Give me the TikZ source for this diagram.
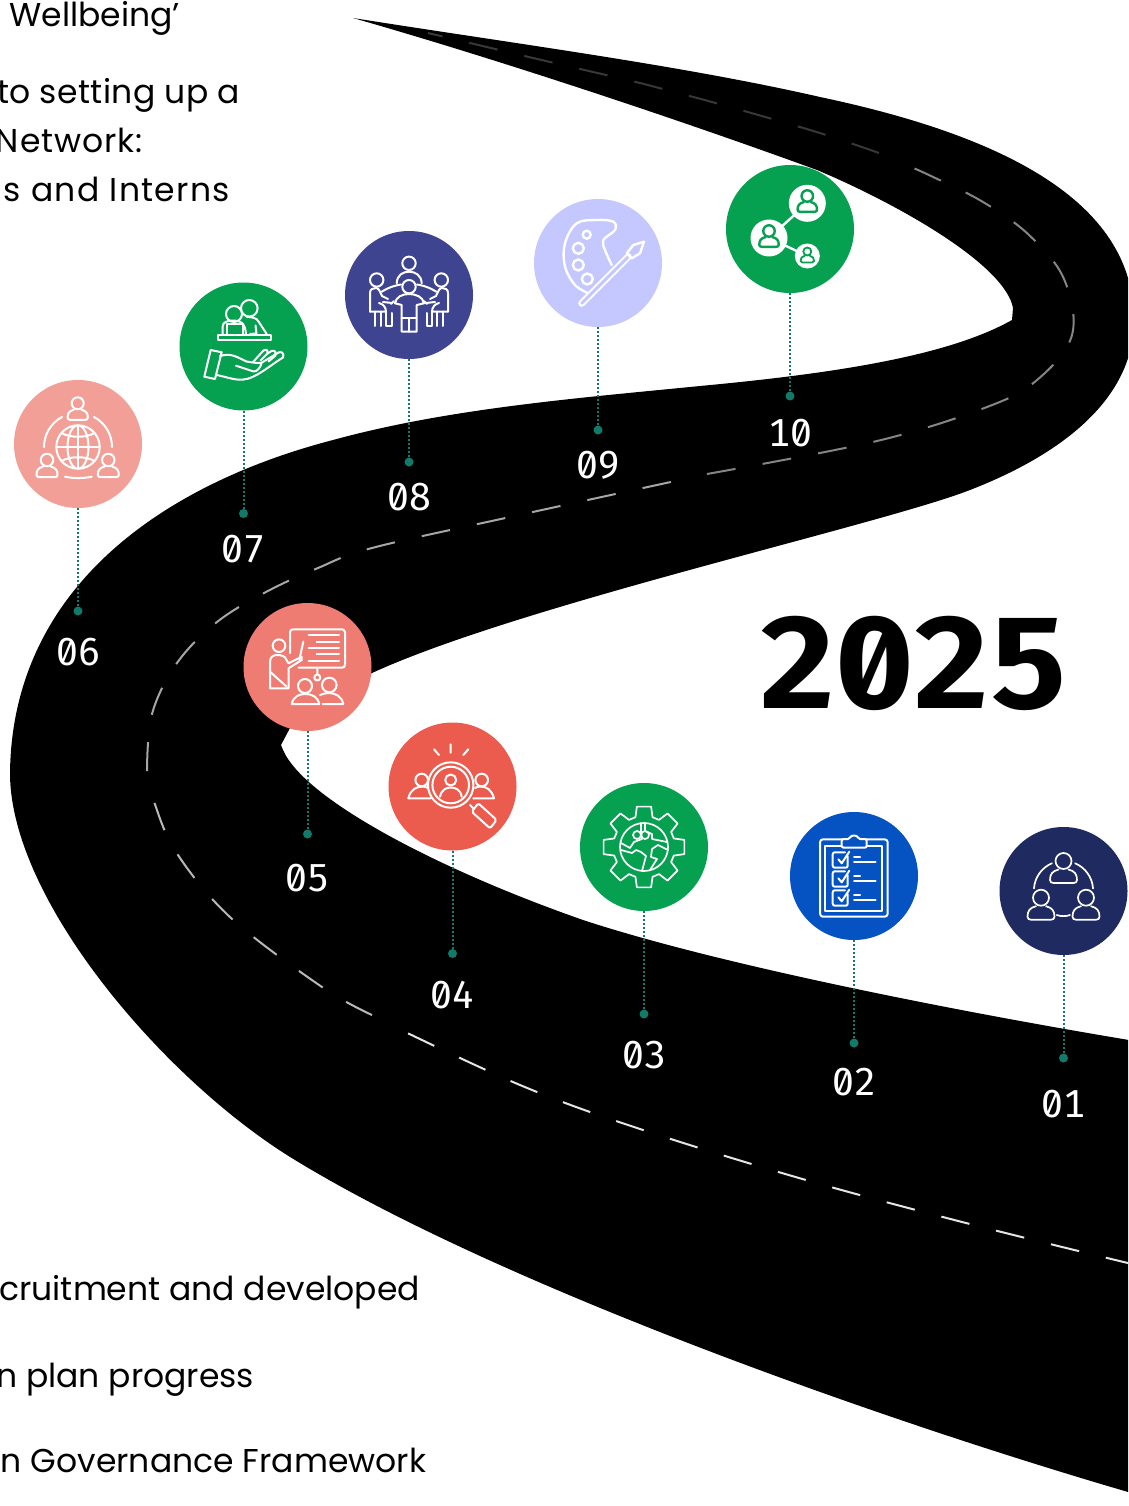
\documentclass[tikz,border=0pt]{standalone}
\usepackage{fontspec}
\setmainfont{Poppins}
\newfontfamily\numfont[RawFeature={+zero;+tnum}]{Fira Sans}
\newfontfamily\yearfont[FakeStretch=1.055,RawFeature={+zero;+tnum}]{Fira Sans}
\usetikzlibrary{positioning}
\definecolor{stopgreen}{HTML}{05A150}
\definecolor{stoplilac}{HTML}{C5C8FF}
\definecolor{stopindigo}{HTML}{3F4490}
\definecolor{stoppink}{HTML}{F2A097}
\definecolor{stopsalmon}{HTML}{EE7C72}
\definecolor{stopred}{HTML}{EB5C4F}
\definecolor{stopblue}{HTML}{0553C2}
\definecolor{stopnavy}{HTML}{1E2A60}
\definecolor{leadteal}{HTML}{127A68}
\tikzset{
  stopdisc/.style={circle,minimum size=128pt,inner sep=0pt,outer sep=0pt},
  stopdot/.style={circle,fill=leadteal,minimum size=9pt,inner sep=0pt,outer sep=0pt},
  stopnum/.style={text=white,inner sep=0pt,outer sep=0pt,yshift=1pt,font=\numfont\fontsize{39}{39}\selectfont},
  leader/.style={leadteal,line width=2pt,dash pattern=on 2pt off 2pt},
  notetext/.style={anchor=base east,inner sep=0pt,outer sep=0pt,font=\fontsize{33}{33}\selectfont},
  iconline/.style={color=white,line width=2pt,line cap=round,line join=round},
  laneline/.style={line width=2pt,dash pattern=on 29pt off 27.5pt},
  pics/bust/.style={code={
    \draw (0,0) circle (8);
    \draw (-5,8.5) .. controls (-11,10) and (-13.5,13) .. (-13.5,19) .. controls (-13.5,21) and (-12,22) .. (-10,22)
      -- (10,22) .. controls (12,22) and (13.5,21) .. (13.5,19) .. controls (13.5,13) and (11,10) .. (5,8.5);
  }},
  pics/sitter/.style={code={
    \draw (-32.3,-15) circle (6.7);
    \draw (-39,16.7) -- (-39,-2) .. controls (-39,-6) and (-36,-7) .. (-33,-7) .. controls (-30,-7) and (-29,-3) .. (-27,1) -- (-21,4);
    \draw (-39,16.7) -- (-23,16.7) .. controls (-23,12) and (-26,9) .. (-30,8);
    \draw (-17,8) -- (-26,7) (-15,6) -- (-18,9);
    \draw (-34,16.7) -- (-34,31) (-28,16.7) -- (-28,31) (-23,16.7) -- (-23,31) -- (-17.5,31) -- (-17.5,18);
  }},
}
\begin{document}
\begin{tikzpicture}[x=1pt,y=-1pt]
  \path[use as bounding box,clip] (0,0) rectangle (1128,1506);
  \fill[black] (353,18) .. controls (510,43) and (680,65) .. (820,97)
    .. controls (1000,135) and (1134,200) .. (1134,320)
    .. controls (1134,400) and (1060,455) .. (970,490)
    .. controls (880,525) and (520,605) .. (372,673)
    -- (290,728) -- (281,745) -- (283,750)
    .. controls (305,800) and (440,870) .. (583,920)
    .. controls (720,965) and (960,1012) .. (1135,1041)
    -- (1135,1494)
    .. controls (880,1420) and (500,1285) .. (295,1160)
    .. controls (165,1081) and (10,900) .. (10,773)
    .. controls (12,590) and (160,485) .. (333,440)
    .. controls (450,408) and (580,398) .. (700,386)
    .. controls (840,373) and (950,355) .. (1012,320)
    -- (1013,308)
    .. controls (1005,265) and (900,205) .. (817,170)
    .. controls (680,120) and (500,60) .. (353,18)
    -- cycle;
  \draw[laneline,black!10] plot[smooth,tension=.6] coordinates {(1134,1264.5) (966,1223) (799,1178) (634,1127) (520,1085) (397,1028)};
  \draw[laneline,black!28] plot[smooth,tension=.6] coordinates {(372,1015) (322,987) (231,918) (176,852) (153,799) (149,785)};
  \draw[laneline,black!35] plot[smooth,tension=.6] coordinates {(147,771) (152,714) (177,663) (217,622) (266,592) (318,568) (372,548) (510,517) (680,480)};
  \draw[laneline,black!48] plot[smooth,tension=.6] coordinates {(707,474) (877,441) (987,407) (1037,380) (1072,335) (1064,279) (1029,235) (983,202) (931,176) (895,160)};
  \draw[laneline,black!78] plot[smooth,tension=.6] coordinates {(879,153) (810,130) (701,99) (644,84) (533,58) (428,33)};

  \node[stopdisc,fill=stopgreen] (disc10) at (790,229) {};
  \node[stopdot,below=98.5pt of disc10] (dot10) {};
  \node[stopnum,below=19.5pt of dot10] (num10) {10};
  \draw[leader] (disc10) -- (dot10);
  \node[stopdisc,fill=stoplilac] (disc09) at (598,263) {};
  \node[stopdot,below=98.5pt of disc09] (dot09) {};
  \node[stopnum,below=17.5pt of dot09] (num09) {09};
  \draw[leader] (disc09) -- (dot09);
  \node[stopdisc,fill=stopindigo] (disc08) at (409,295) {};
  \node[stopdot,below=98.5pt of disc08] (dot08) {};
  \node[stopnum,below=17.5pt of dot08] (num08) {08};
  \draw[leader] (disc08) -- (dot08);
  \node[stopdisc,fill=stopgreen] (disc07) at (243.5,346.5) {};
  \node[stopdot,below=98.5pt of disc07] (dot07) {};
  \node[stopnum,below=18.5pt of dot07] (num07) {07};
  \draw[leader] (disc07) -- (dot07);
  \node[stopdisc,fill=stoppink] (disc06) at (78,444) {};
  \node[stopdot,below=98.5pt of disc06] (dot06) {};
  \node[stopnum,below=23.5pt of dot06] (num06) {06};
  \draw[leader] (disc06) -- (dot06);
  \node[stopdisc,fill=stopsalmon] (disc05) at (307.5,667) {};
  \node[stopdot,below=98.5pt of disc05] (dot05) {};
  \node[stopnum,below=27pt of dot05] (num05) {05};
  \draw[leader] (disc05) -- (dot05);
  \node[stopdisc,fill=stopred] (disc04) at (452.5,786.5) {};
  \node[stopdot,below=98.5pt of disc04] (dot04) {};
  \node[stopnum,below=24.5pt of dot04] (num04) {04};
  \draw[leader] (disc04) -- (dot04);
  \node[stopdisc,fill=stopgreen] (disc03) at (644,847) {};
  \node[stopdot,below=98.5pt of disc03] (dot03) {};
  \node[stopnum,below=23.5pt of dot03] (num03) {03};
  \draw[leader] (disc03) -- (dot03);
  \node[stopdisc,fill=stopblue] (disc02) at (854,876) {};
  \node[stopdot,below=98.5pt of disc02] (dot02) {};
  \node[stopnum,below=21.5pt of dot02] (num02) {02};
  \draw[leader] (disc02) -- (dot02);
  \node[stopdisc,fill=stopnavy] (disc01) at (1063.5,891) {};
  \node[stopdot,below=98.5pt of disc01] (dot01) {};
  \node[stopnum,below=28.5pt of dot01] (num01) {01};
  \draw[leader] (disc01) -- (dot01);

  \begin{scope}[shift={(disc10.center)},iconline,line width=2.4pt]
    \draw (17.3,-25.7) -- (-21,9) -- (17.3,27);
    \fill (17.3,-25.7) circle (18.5) (-21,9) circle (18.5) (17.3,27) circle (12.5);
    \pic[color=stopgreen,scale=.72] at (17.3,-33) {bust};
    \pic[color=stopgreen,scale=.72] at (-21,2) {bust};
    \pic[color=stopgreen,scale=.5,line width=1.8pt] at (17.3,22.5) {bust};
  \end{scope}
  \begin{scope}[shift={(disc09.center)},iconline,line width=2.4pt]
    \draw plot[smooth,tension=.6] coordinates {(13.7,2) (7,-13) (5.3,-23) (17,-33) (15.3,-41.3) (-1.3,-43) (-21.3,-39.7) (-33,-19.7) (-33,3.7) (-23,22) (-9.7,30.3)};
    \draw (-11.3,-28.3) circle (4) (-19.7,-14.7) circle (5.5) (-19.7,2) circle (5.5) (-10.7,16) circle (5.5);
    \draw[line width=7pt] (-16.3,40.3) -- (30.3,-6.3);
    \draw[stoplilac,line width=3pt] (-16.3,40.3) -- (30.3,-6.3);
    \draw (28.7,-9.7) -- (35.3,-18) -- (46,-21.3) -- (42,-9.7) -- (33.7,-4.7) -- cycle;
  \end{scope}
  \begin{scope}[shift={(disc08.center)},iconline]
    \draw (0,-31.7) circle (6.7);
    \draw (-12.3,-11.7) .. controls (-12,-20) and (-6,-23.3) .. (0,-23.3) .. controls (6,-23.3) and (12.4,-20) .. (12.7,-11.7);
    \draw (-27.3,-3.3) .. controls (-18,-9) and (-11,-10) .. (-8,-10.5) (27.3,-3.3) .. controls (18,-9) and (11,-10) .. (8,-10.5);
    \draw (0,-8.3) circle (6.7);
    \draw (-14,8.3) .. controls (-13,2) and (-7,-1) .. (0,-1) .. controls (7,-1) and (14,2) .. (15,8.3) -- (7.7,10) -- (7.7,36.7) -- (-7.3,36.7) -- (-7.3,10) -- cycle;
    \draw (0,23.3) -- (0,36.7) (-7.3,23.3) -- (7.7,23.3);
    \pic {sitter};
    \pic[xscale=-1] {sitter};
  \end{scope}
  \begin{scope}[shift={(disc07.center)},iconline]
    \draw (-25.8,-11.5) rectangle (27.2,-6.5);
    \draw (-9.5,-32.5) circle (8) (5.8,-38.2) circle (8.3);
    \draw (-20.8,-12.5) -- (-20.8,-20) .. controls (-20.8,-24) and (-17,-26) .. (-10,-26) .. controls (-3,-26) and (1.5,-24) .. (2.5,-12.5);
    \draw (-16.8,-12.5) -- (-16.8,-22.5) -- (-0.8,-22.5) -- (-0.8,-12.5);
    \draw (3,-29.8) .. controls (9,-29) and (13,-29) .. (15,-25) -- (23.2,-12.5) (6.5,-12.5) -- (13,-13) -- (12,-21);
    \draw (-32.8,3.5) -- (-21.8,5.8) -- (-28.5,32.5) -- (-39.2,30.2) -- cycle;
    \draw (-23.5,9.5) .. controls (-12,6) and (-6,11) .. (3,15) .. controls (9,16) and (15,17) .. (18.2,16.2);
    \draw (-26.8,28.5) .. controls (-15,31) and (-8,34) .. (0,33) .. controls (12,32) and (25,20) .. (39.5,11) .. controls (41,7) and (38,4.5) .. (35,6) -- (18.2,16.2) .. controls (17,21) and (14,25) .. (10,25) -- (-7.5,19.2);
    \draw (9.8,15.2) -- (20,4) .. controls (24,2) and (25,5) .. (24,7) -- (17,14);
    \draw (24,7) -- (28,4.5) .. controls (32,3) and (33,7) .. (32,9) -- (25,15);
  \end{scope}
  \begin{scope}[shift={(disc06.center)},iconline]
    \draw (0,3) circle (21.7) (0,3) ellipse (10.5 and 21.7);
    \draw (-21.7,3) -- (21.7,3) (0,-18.7) -- (0,24.7);
    \draw (-16.5,-11) .. controls (-8,-6) and (8,-6) .. (16.5,-11) (-16.5,17) .. controls (-8,12) and (8,12) .. (16.5,17);
    \draw[shift={(0,3)}] (180:34) arc[start angle=180,end angle=242,radius=34];
    \draw[shift={(0,3)}] (298:34) arc[start angle=298,end angle=360,radius=34];
    \draw (-13,32.7) .. controls (-5,34.5) and (5,34.5) .. (13.7,32.7);
    \pic[scale=.75] at (-0.3,-40.7) {bust};
    \pic[scale=.78] at (-31,16) {bust};
    \pic[scale=.78] at (30.3,16) {bust};
  \end{scope}
  \begin{scope}[shift={(disc05.center)},iconline]
    \draw[rounded corners=3pt] (-17.5,-14) -- (-17.5,-37.7) -- (37.5,-37.7) -- (37.5,0.7) -- (-9,0.7);
    \draw (1,-32) -- (31.5,-32) (9,-25.3) -- (31.5,-25.3) (1,-19.3) -- (31.5,-19.3) (9,-13) -- (31.5,-13) (1,-6.3) -- (31.5,-6.3);
    \draw (9.8,0.7) -- (9.8,7.5) (9.8,10.5) circle (3);
    \draw (-28.5,-21.3) circle (6.3);
    \draw (-37.5,21.3) -- (-37.5,-5.3) .. controls (-37.5,-10) and (-34,-12) .. (-31,-12) .. controls (-26,-12) and (-22,-11) .. (-21,-7) -- (-19,-3.7) -- (-5.8,-10.3) -- (-5.8,-7) -- (-19,1.3) -- (-19,21.3) -- cycle;
    \draw (-37.5,4.7) -- (-20.8,19.7) (-4.2,-25.3) -- (-8.2,-7);
    \draw (-2.5,19) circle (7) (21.8,18) circle (7.3);
    \draw (-15.8,37) .. controls (-14,29) and (-8,27) .. (-2,27) .. controls (5,27) and (10,30) .. (11.8,37) -- cycle;
    \draw (15.2,37) -- (35.8,37) .. controls (34,29) and (28,26) .. (21,26) .. controls (18,26) and (15,27) .. (12.5,28);
  \end{scope}
  \begin{scope}[shift={(disc04.center)},iconline]
    \draw (-1.8,-42.2) -- (-1.8,-33.8) (-18.5,-37.2) -- (-13.5,-31.5) (15.8,-37.2) -- (10.8,-31.5);
    \draw (-1.8,-1.5) circle (22.7) (-1.8,-1.5) circle (18.3);
    \draw (-1.8,-6.5) circle (5.5);
    \draw (-12.5,10.2) .. controls (-11,3) and (-6,1) .. (-1.8,1) .. controls (3,1) and (8,3) .. (9.2,10.2);
    \draw (17.5,18.5) -- (21,22);
    \draw[rounded corners=2pt] (25.8,16.8) -- (44.2,33.5) -- (37.5,41.8) -- (19.2,25.2) -- cycle;
    \draw (-30.8,-6.5) circle (6.3);
    \draw (-22,11.8) -- (-44.2,11.8) .. controls (-42,3) and (-36,0) .. (-30,0) .. controls (-28,0) and (-26,0.5) .. (-24.5,1.5);
    \draw (29.2,-6.5) circle (6.3);
    \draw (20.8,11.8) -- (41.5,11.8) .. controls (39,3) and (34,0) .. (28,0) .. controls (26,0) and (24,0.5) .. (22.5,1.5);
  \end{scope}
  \begin{scope}[shift={(disc03.center)},iconline,line width=1.7pt]
    \draw (-16:31) \foreach \a in {0,45,...,315} { -- (\a-16:31) -- (\a-10:41) -- (\a+10:41) -- (\a+16:31) } -- cycle;
    \draw (0,0) circle (24);
    \draw (-23,-4) -- (-14,1) -- (-10,-5) -- (-2,-8) -- (-3,-16) -- (-3,-24);
    \draw (-23,3) -- (-12,6) -- (-8,3) -- (-3,5) -- (2,9) -- (-2,24);
    \draw (1,-24) -- (1,-16) -- (8,-13) -- (8,-8) -- (23,-5);
    \draw (24,3) -- (14,-2) -- (8,2) -- (7,10) -- (13,12) -- (6,23);
    \draw (-7,-12) circle (4) (1,-12) circle (4);
  \end{scope}
  \begin{scope}[shift={(disc02.center)},iconline,line width=2pt]
    \draw[rounded corners=3pt] (-34,-36.7) rectangle (33.7,40.7);
    \draw (-29,-30) rectangle (27.7,35);
    \draw[fill=stopblue,rounded corners=2pt] (-12.3,-28.3) -- (-12.3,-37) -- (-4,-37) .. controls (-3,-41) and (3,-41) .. (4,-37) -- (12.7,-37) -- (12.7,-28.3) -- cycle;
    \foreach \s in {0,19,38} {
      \begin{scope}[yshift=-\s pt]
        \draw[rounded corners=2pt] (-6.3,-20) -- (-6.3,-8.3) -- (-21.3,-8.3) -- (-21.3,-23.7) -- (-9,-23.7);
        \draw (-15.7,-16.7) -- (-12.3,-12.7) -- (-4.7,-24.3);
        \draw (0,-19.3) -- (6,-19.3) (0,-13.7) -- (21.7,-13.7);
      \end{scope}
    }
  \end{scope}
  \begin{scope}[shift={(disc01.center)},iconline,line width=1.7pt]
    \pic at (0,-30) {bust};
    \pic at (-22.5,6.7) {bust};
    \pic at (22.5,6.7) {bust};
    \draw[shift={(0,-0.5)}] (184:29.6) arc[start angle=184,end angle=247,radius=29.6];
    \draw[shift={(0,-0.5)}] (293:29.6) arc[start angle=293,end angle=356,radius=29.6];
    \draw (-6.8,24) .. controls (-3,25.5) and (3,25.5) .. (6.5,24);
  \end{scope}

  \node[anchor=base,inner sep=0pt,outer sep=0pt,font=\yearfont\bfseries\fontsize{130}{130}\selectfont] (year) at (913.5,708) {2025};
  \node[notetext] (note1) at (180,27) {Wellbeing’};
  \node[notetext] (note2) at (240,104) {\addfontfeature{LetterSpace=1.2}to setting up a};
  \node[notetext] (note3) at (143,153) {\addfontfeature{LetterSpace=3}Network:};
  \node[notetext] (note4) at (230,202) {\addfontfeature{LetterSpace=4}s and Interns};
  \node[notetext] (note5) at (420,1300) {cruitment and developed};
  \node[notetext] (note6) at (254,1387) {n plan progress};
  \node[notetext] (note7) at (426,1472) {n Governance Framework};
\end{tikzpicture}
\end{document}
